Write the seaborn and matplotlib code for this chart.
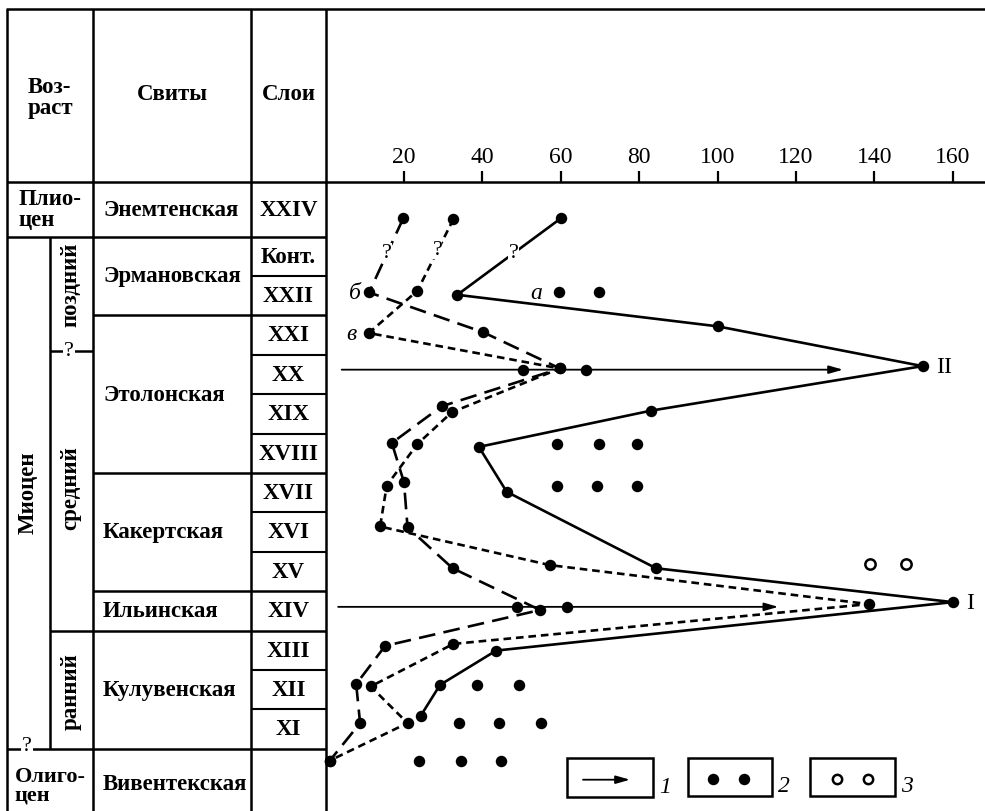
import matplotlib
matplotlib.use("Agg")
import matplotlib.pyplot as plt
import numpy as np
import pandas as pd
import seaborn as sns
from matplotlib.patches import Rectangle

sns.set_theme(style="white")
plt.rcParams["font.family"] = ["Liberation Serif", "DejaVu Serif"]
plt.rcParams["lines.scale_dashes"] = False
plt.rcParams["mathtext.default"] = "regular"

# ---------------- data ----------------
# stratigraphic level: layer number (XI = 11 ... XXIV = 24), Вивентекская = 10
layer_names = ["XXIV", "Конт.", "XXII", "XXI", "XX", "XIX", "XVIII",
               "XVII", "XVI", "XV", "XIV", "XIII", "XII", "XI"]
layer_levels = [24.19, 23, 22, 21, 20, 19, 18, 17, 16, 15, 14, 13, 12, 11]

suite_names = ["Энемтенская", "Эрмановская", "Этолонская", "Какертская",
               "Ильинская", "Кулувенская", "Вивентекская"]
suite_top = [24.88, 23.5, 21.5, 17.5, 14.5, 13.5, 10.5]
suite_bottom = [23.5, 21.5, 17.5, 14.5, 13.5, 10.5, 8.7]

# curve "a" (solid)
a_count = [60, 33.6, 100, 152.3, 83, 39.1, 46.2, 84.3, 160, 43.5, 29.2, 24.3]
a_level = [23.96, 22.02, 21.22, 20.21, 19.08, 18.16, 17.02, 15.08, 14.22,
           12.99, 12.12, 11.34]

# curve "б" (long dashes)
b_count = [19.8, 11.1, 40.2, 59.8, 29.6, 16.9, 20, 20.9, 32.4, 54.7, 15.2,
           7.8, 8.8, 1.1]
b_level = [23.96, 22.08, 21.07, 20.15, 19.19, 18.26, 17.26, 16.12, 15.08,
           14.02, 13.11, 12.14, 11.15, 10.2]

# curve "в" (short dashes)
v_count = [32.6, 23.4, 11.0, 59.8, 32.2, 23.4, 15.6, 13.9, 57.2, 138.5,
           32.6, 11.5, 20.9, 1.1]
v_level = [23.94, 22.12, 21.05, 20.15, 19.04, 18.23, 17.18, 16.14, 15.16,
           14.17, 13.16, 12.08, 11.15, 10.2]

# arrows (legend item 1)
arrow_level = [20.12, 14.1]
arrow_start = [4.1, 3.2]
arrow_end = [132, 115.5]
arrow_dot_left = [50.3, 48.7]
arrow_dot_right = [66.5, 61.5]

# separate filled circles (legend item 2)
dots_count = [59.5, 69.8, 59, 69.8, 79.5, 59, 69.2, 79.5, 38.5, 49.4,
              34.1, 44.3, 54.9, 23.9, 34.5, 44.7]
dots_level = [22.1, 22.1, 18.23, 18.23, 18.23, 17.18, 17.18, 17.18,
              12.12, 12.12, 11.15, 11.15, 11.15, 10.2, 10.2, 10.2]

# open circles (legend item 3)
open_count = [138.9, 148]
open_level = [15.19, 15.19]

x_ticks = [20, 40, 60, 80, 100, 120, 140, 160]

# ---------------- layout ----------------
W, H = 985, 812
ROW = 39.4          # px per layer
Y11 = 730           # px of layer XI


def lvl2px(n):
    return Y11 - (np.asarray(n) - 11) * ROW


def px2lvl(p):
    return 11 + (Y11 - p) / ROW


X0_PX, PX_PER_UNIT = 325.6, 3.92
AXIS_PX = 183

fig = plt.figure(figsize=(W / 100, H / 100), dpi=100)
fig.patch.set_facecolor("white")

# pixel-space layer for the table and legend
tab = fig.add_axes([0, 0, 1, 1], zorder=0)
tab.set_xlim(0, W)
tab.set_ylim(H, 0)
tab.axis("off")

# data axes
ax = fig.add_axes([X0_PX / W, 0, (W - X0_PX) / W, (H - AXIS_PX) / H], zorder=2)
ax.patch.set_alpha(0)
ax.set_xlim(0, (W - X0_PX) / PX_PER_UNIT)
ax.set_ylim(px2lvl(H), px2lvl(AXIS_PX))

LW_T = 1.8
FS = 16.5
bold = dict(fontweight="bold", fontsize=FS, color="black")


def hline(y, x0, x1, lw=LW_T):
    tab.plot([x0, x1], [y, y], color="black", lw=lw, solid_capstyle="butt")


def vline(x, y0, y1, lw=LW_T):
    tab.plot([x, x], [y0, y1], color="black", lw=lw, solid_capstyle="butt")


C0, C1, C2, C3, C4 = 7, 50, 93, 251, 326
# verticals
for x in (C0, C2, C3, C4):
    vline(x, 10, H)
vline(C1, lvl2px(23.5), lvl2px(10.5))
# horizontals
hline(10, C0 - 1, W)
hline(AXIS_PX, C0, C4)
hline(lvl2px(23.5), C0, C4)
for b in (21.5, 17.5, 14.5):
    hline(lvl2px(b), C2, C4)
hline(lvl2px(13.5), C1, C4)
hline(lvl2px(10.5), C0, C4)
for b in (22.5, 20.5, 19.5, 18.5, 16.5, 15.5, 12.5, 11.5):
    hline(lvl2px(b), C3, C4, lw=1.5)
late_mid = 20.59
hline(lvl2px(late_mid), C1, C2)

# question marks on uncertain boundaries
for (qx, qy) in ((69, lvl2px(late_mid) - 1), (27, lvl2px(10.5) - 3)):
    tab.text(qx, qy, "?", ha="center", va="center", fontsize=16,
             color="black", bbox=dict(fc="white", ec="none", pad=0.5))

# header
tab.text((C0 + C2) / 2, 98, "Воз-\nраст", ha="center", va="center",
         multialignment="left", linespacing=1.0, **bold)
tab.text((C2 + C3) / 2, 95, "Свиты", ha="center", va="center", **bold)
tab.text((C3 + C4) / 2, 95, "Слои", ha="center", va="center", **bold)

# ages
tab.text((C0 + C2) / 2, (AXIS_PX + lvl2px(23.5)) / 2, "Плио-\nцен",
         ha="center", va="center", multialignment="left", linespacing=1.0,
         **bold)
tab.text((C0 + C2) / 2, 786, "Олиго-\nцен", ha="center", va="center",
         multialignment="left", linespacing=0.9, fontweight="bold",
         fontsize=16, color="black")
tab.text(28, 493, "Миоцен", rotation=90, ha="center", va="center", **bold)
tab.text(71, 285, "поздний", rotation=90, ha="center", va="center", **bold)
tab.text(71, 488, "средний", rotation=90, ha="center", va="center", **bold)
tab.text(71, 692, "ранний", rotation=90, ha="center", va="center", **bold)

# suites
for name, t, b in zip(suite_names, suite_top, suite_bottom):
    yc = (lvl2px(t) + lvl2px(b)) / 2
    if name == "Вивентекская":
        yc = 785
    tab.text(103, yc, name, ha="left", va="center", **bold)

# layers
for name, n in zip(layer_names, layer_levels):
    tab.text((C3 + C4) / 2, lvl2px(n), name, ha="center", va="center",
             **bold)

# ---------------- curves ----------------
LW = 1.9
series = [
    (a_count, a_level, None),
    (b_count, b_level, (0, (12, 6))),
    (v_count, v_level, (0, (5.5, 3.5))),
]
for xs, ys, dash in series:
    df = pd.DataFrame({"count": xs, "level": ys})
    sns.lineplot(data=df, x="count", y="level", sort=False, estimator=None,
                 ax=ax, color="black", lw=LW, zorder=3, clip_on=False)
    line = ax.lines[-1]
    if dash is not None:
        line.set_linestyle(dash)
    sns.scatterplot(data=df, x="count", y="level", ax=ax, color="black",
                    s=68, linewidth=0, zorder=4, clip_on=False, legend=False)

# arrows
for lv, x0, x1, dl, dr in zip(arrow_level, arrow_start, arrow_end,
                              arrow_dot_left, arrow_dot_right):
    ax.annotate("", xy=(x1, lv), xytext=(x0, lv),
                arrowprops=dict(arrowstyle="-|>,head_length=0.7,head_width=0.2",
                                color="black", lw=1.3, mutation_scale=12,
                                shrinkA=0, shrinkB=0), zorder=3)
    sns.scatterplot(x=[dl, dr], y=[lv, lv], ax=ax, color="black", s=68,
                    linewidth=0, zorder=4, legend=False)

# separate circles
sns.scatterplot(x=dots_count, y=dots_level, ax=ax, color="black", s=68,
                linewidth=0, zorder=4, legend=False)
sns.scatterplot(x=open_count, y=open_level, ax=ax, facecolor="white",
                edgecolor="black", s=55, linewidth=1.8, zorder=4,
                legend=False)

# curve labels
ital = dict(fontstyle="italic", fontsize=17, color="black", ha="center",
            va="center")
ax.text(53.8, 22.08, "a", **ital)
ax.text(7.5, 22.08, "б", **ital)
ax.text(6.7, 21.05, "в", **ital)
ax.text(a_count[8] + 4.3, a_level[8], "I", fontsize=17, ha="center",
        va="center", color="black")
ax.text(a_count[3] + 5.4, a_level[3], "II", fontsize=17, ha="center",
        va="center", color="black")
for qx, qy in ((15.6, 23.1), (28.5, 23.18), (47.9, 23.1)):
    ax.text(qx, qy, "?", fontsize=16, ha="center", va="center",
            color="black", zorder=5,
            bbox=dict(fc="white", ec="none", pad=0.2))

# axis styling
ax.xaxis.tick_top()
ax.set_xticks(x_ticks)
ax.set_xticklabels([str(t) for t in x_ticks])
ax.set_yticks([])
ax.set_xlabel("")
ax.set_ylabel("")
ax.tick_params(axis="x", top=True, bottom=False, direction="out",
               length=8, width=1.6, labelsize=17, pad=3, colors="black")
for side in ("left", "right", "bottom"):
    ax.spines[side].set_visible(False)
ax.spines["top"].set_linewidth(LW_T)
ax.spines["top"].set_color("black")
ax.grid(False)

# ---------------- legend ----------------
boxes = [(566.7, 759.3, 86, 39), (687.7, 759.3, 84.6, 38), (810, 759.3, 85, 38)]
for (bx, by, bw, bh), lab in zip(boxes, ["1", "2", "3"]):
    tab.add_patch(Rectangle((bx, by), bw, bh, fill=False, ec="black",
                            lw=LW_T, zorder=5))
    tab.text(bx + bw + 12, by + bh - 11, lab, fontstyle="italic",
             fontsize=17, ha="center", va="center", color="black")
tab.annotate("", xy=(630, 780.7), xytext=(583, 780.7),
             arrowprops=dict(arrowstyle="-|>,head_length=0.7,head_width=0.2",
                             color="black", lw=1.3, mutation_scale=12,
                             shrinkA=0, shrinkB=0))
tab.scatter([713.3, 744.3], [780, 780], s=68, color="black", linewidths=0,
            zorder=6)
tab.scatter([836.7, 868.3], [780, 780], s=45, facecolor="white",
            edgecolor="black", linewidths=1.8, zorder=6)

fig.savefig("out.png", dpi=100, facecolor="white")
